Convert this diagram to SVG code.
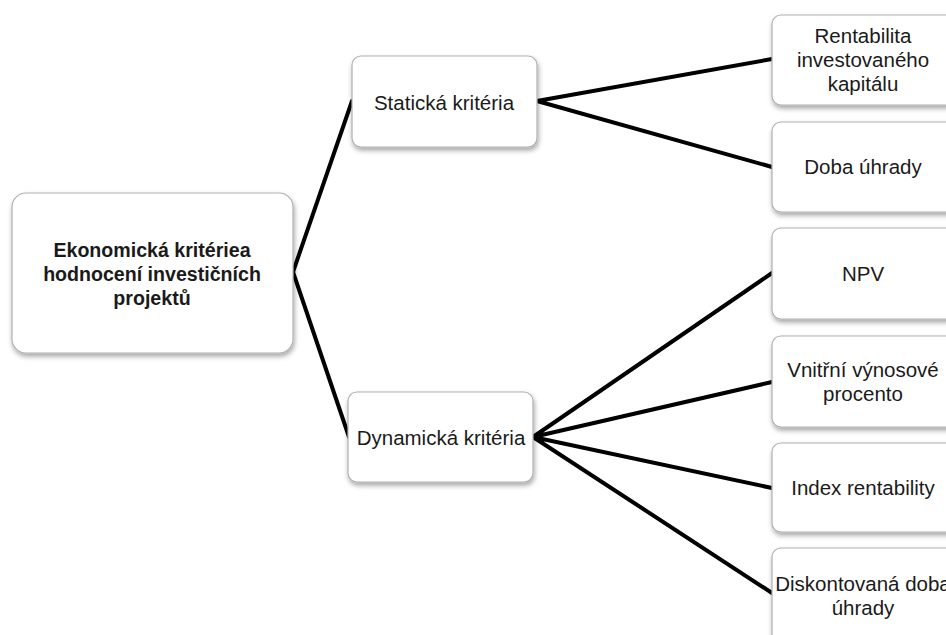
<svg xmlns="http://www.w3.org/2000/svg" width="946" height="635" viewBox="0 0 946 635">
<defs>
<filter id="sh" x="-10%" y="-10%" width="130%" height="140%">
<feDropShadow dx="1" dy="3" stdDeviation="2.5" flood-color="#000" flood-opacity="0.35"/>
</filter>
</defs>
<style>
.box{fill:#fff;stroke:#b0b0b0;stroke-width:1.2;filter:url(#sh)}
.t{font-family:"Liberation Sans",Arial,sans-serif;font-size:20.5px;fill:#1a1a1a;text-anchor:middle}
.b{font-weight:bold;font-size:19.6px}
.c{stroke:#000;stroke-width:4;fill:none;stroke-linecap:round}
</style>
<rect width="946" height="635" fill="#fff"/>
<g id="connectors">
<path class="c" d="M352,101 L293,272 L349,437"/>
<path class="c" d="M772,59 L537,101 L772,167"/>
<path class="c" d="M772,273 L533,437 L772,382"/>
<path class="c" d="M772,488 L533,437 L772,593"/>
</g>
<g id="root">
<rect class="box" x="12" y="193" width="281" height="160" rx="14"/>
<text class="t b" x="152" y="257">Ekonomická kritériea</text>
<text class="t b" x="152" y="281">hodnocení investičních</text>
<text class="t b" x="152" y="305">projektů</text>
</g>
<g id="staticka">
<rect class="box" x="352" y="56" width="185" height="91" rx="9"/>
<text class="t" x="444" y="110">Statická kritéria</text>
</g>
<g id="dynamicka">
<rect class="box" x="348" y="392" width="185" height="90" rx="9"/>
<text class="t" x="441" y="445">Dynamická kritéria</text>
</g>
<g id="rentabilita">
<rect class="box" x="772" y="15" width="184" height="90" rx="9"/>
<text class="t" x="863" y="43">Rentabilita</text>
<text class="t" x="863" y="67">investovaného</text>
<text class="t" x="863" y="91">kapitálu</text>
</g>
<g id="doba">
<rect class="box" x="772" y="122" width="184" height="90" rx="9"/>
<text class="t" x="863" y="174">Doba úhrady</text>
</g>
<g id="npv">
<rect class="box" x="772" y="228" width="184" height="91" rx="9"/>
<text class="t" x="863" y="281">NPV</text>
</g>
<g id="vnitrni">
<rect class="box" x="772" y="336" width="184" height="91" rx="9"/>
<text class="t" x="863" y="377">Vnitřní výnosové</text>
<text class="t" x="863" y="401">procento</text>
</g>
<g id="index">
<rect class="box" x="772" y="443" width="184" height="89" rx="9"/>
<text class="t" x="863" y="495">Index rentability</text>
</g>
<g id="diskontovana">
<rect class="box" x="772" y="548" width="184" height="100" rx="9"/>
<text class="t" x="863" y="591">Diskontovaná doba</text>
<text class="t" x="863" y="615">úhrady</text>
</g>
</svg>
